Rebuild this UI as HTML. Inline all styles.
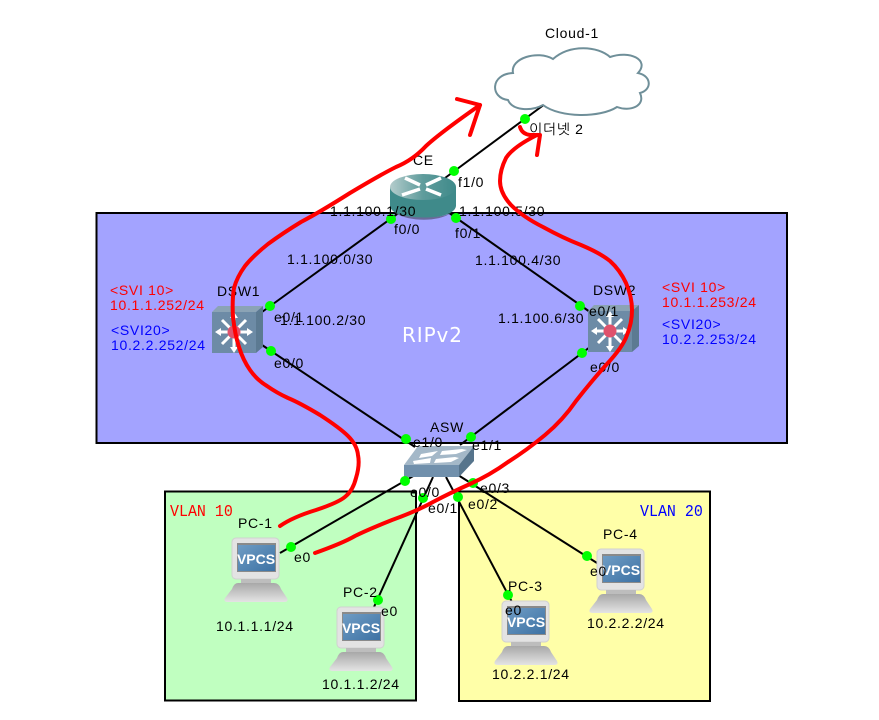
<!DOCTYPE html>
<html><head><meta charset="utf-8">
<style>
html,body{margin:0;padding:0;background:#fff}
svg{display:block}
text{font-family:"Liberation Sans","NanumGothic","Noto Sans CJK KR",sans-serif;font-size:14px;fill:#000;letter-spacing:.7px}
</style></head>
<body>
<svg width="879" height="720" viewBox="0 0 879 720" xmlns="http://www.w3.org/2000/svg">
<defs>
<linearGradient id="rt" x1="0" x2="1" y1="0" y2="0"><stop offset="0" stop-color="#b4cccc"/><stop offset=".5" stop-color="#5f9c9c"/><stop offset="1" stop-color="#3f8a8a"/></linearGradient>
<linearGradient id="scr" x1="0" x2="1" y1="0" y2="1"><stop offset="0" stop-color="#6f9cc4"/><stop offset="1" stop-color="#3d72a4"/></linearGradient>
<linearGradient id="kb" x1="0" x2="0" y1="0" y2="1"><stop offset="0" stop-color="#a8a8a8"/><stop offset="1" stop-color="#e4e4e4"/></linearGradient>
<g id="pc">
<rect x="8" y="0" width="47" height="41" rx="4" fill="#e3e3e3" stroke="#d0d0d0"/>
<rect x="13" y="5" width="39" height="29" fill="#8a8a8a"/>
<rect x="14" y="7" width="37" height="26" fill="url(#scr)"/>
<text x="32" y="26" text-anchor="middle" style="font-size:14px;font-weight:bold;fill:#fff;letter-spacing:0">VPCS</text>
<rect x="17" y="41" width="30" height="4" fill="#bdbdbd"/>
<path d="M14 45 H50 Q55 45 57 51 L63 60 Q65 64 60 64 H4 Q-1 64 1 60 L8 51 Q10 45 14 45Z" fill="url(#kb)"/>
</g>
<g id="dsw">
<path d="M0 6 L6 0 H51 L44 6Z" fill="#8ba3b5"/>
<path d="M44 6 L51 0 V41 L44 47Z" fill="#5c7a92"/>
<rect x="0" y="6" width="44" height="41" fill="#6d8ba6"/>
<g stroke="#fff" stroke-width="3">
<path d="M22 11 V42 M5 26 H39 M10 14 L34 38 M34 14 L10 38"/>
</g>
<path d="M22 6 l-4 6 h8Z M22 47 l-4 -6 h8Z M3 26 l6 -4 v8Z M41 26 l-6 -4 v8Z" fill="#fff"/>
<circle cx="22" cy="26" r="6.5" fill="#e0526c"/>
</g>
</defs>

<rect x="96.5" y="213" width="690.5" height="230" fill="#a3a3ff" stroke="#000" stroke-width="2"/>
<rect x="165" y="491.500" width="251" height="209" fill="#c0ffc0" stroke="#000" stroke-width="2"/>
<rect x="459" y="491.500" width="251" height="209.500" fill="#ffffa8" stroke="#000" stroke-width="2"/>

<!-- links -->
<g stroke="#000" stroke-width="2" fill="none">
<line x1="445" y1="178" x2="545" y2="104"/>
<line x1="400" y1="212" x2="262" y2="312"/>
<line x1="445" y1="210" x2="590" y2="312"/>
<line x1="262" y1="345" x2="415" y2="447"/>
<line x1="460" y1="445" x2="590" y2="347"/>
<line x1="415" y1="475" x2="280" y2="553"/>
<line x1="433" y1="477" x2="374" y2="607"/>
<line x1="446" y1="477" x2="513" y2="604"/>
<line x1="458" y1="475" x2="597" y2="563"/>
</g>

<!-- cloud -->
<path d="M513 73 C510 58 538 50 553 59 C570 44 598 46 610 57 C630 50 650 60 638 73 C652 76 652 90 640 93 C646 106 630 112 617 107 C600 118 560 118 543 105 C530 112 512 110 508 100 C490 98 490 74 513 73Z" fill="#fff" stroke="#6f8f99" stroke-width="2"/>

<!-- router -->
<path d="M390 187 V206 C392 222 454 222 456 206 V187Z" fill="#3f8a8a"/>
<path d="M395 213 C410 222 438 222 451 213 C440 219 410 219 395 213Z" fill="#6a6a9a"/>
<ellipse cx="423" cy="187" rx="33" ry="13" fill="url(#rt)"/>
<g stroke="#fff" stroke-width="3.500" fill="none">
<path d="M405 178 L420 185 M441 195 L426 189 M441 178 L426 185 M402 195 L420 189"/>
</g>

<!-- switches -->
<use href="#dsw" x="212" y="306"/>
<use href="#dsw" x="588" y="305"/>

<!-- ASW -->
<path d="M404 465 L418 446 H474 L459 465Z" fill="#a4b8c8"/>
<path d="M459 465 L474 446 V461 L459 477Z" fill="#56748c"/>
<rect x="404" y="465" width="55" height="12" fill="#7190ac"/>
<g fill="#fff">
<path d="M421 454 L438 451 L432 456 L419 458Z"/>
<path d="M442 451 L462 449 L467 450 L456 454 L440 455Z"/>
<path d="M413 461 L431 458 L430 463 L414 464Z"/>
<path d="M436 459 L455 457 L459 458 L451 462 L434 463Z"/>
</g>

<!-- PCs -->
<use href="#pc" x="224" y="538"/>
<use href="#pc" x="329" y="607"/>
<use href="#pc" x="494" y="601"/>
<use href="#pc" x="589" y="549"/>

<!-- dots -->
<g fill="#0f0">
<circle cx="454" cy="171" r="5"/><circle cx="525" cy="119" r="5"/>
<circle cx="391" cy="219" r="5"/><circle cx="456" cy="218" r="5"/>
<circle cx="270" cy="306" r="5"/><circle cx="271" cy="351" r="5"/>
<circle cx="580" cy="306" r="5"/><circle cx="582" cy="353" r="5"/>
<circle cx="406" cy="439" r="5"/><circle cx="471" cy="437" r="5"/>
<circle cx="405" cy="481" r="5"/><circle cx="423" cy="498" r="5"/>
<circle cx="458" cy="497" r="5"/><circle cx="473" cy="483" r="5"/>
<circle cx="291" cy="547" r="5"/><circle cx="378" cy="600" r="5"/>
<circle cx="508" cy="595" r="5"/><circle cx="587" cy="556" r="5"/>
</g>

<!-- labels -->
<text x="545" y="38">Cloud-1</text>
<text x="529" y="134">이더넷 2</text>
<text x="413" y="165">CE</text>
<text x="458" y="187">f1/0</text>
<text x="330" y="216">1.1.100.1/30</text>
<text x="459" y="216">1.1.100.5/30</text>
<text x="394" y="234">f0/0</text>
<text x="455" y="238">f0/1</text>
<text x="287" y="264">1.1.100.0/30</text>
<text x="475" y="265">1.1.100.4/30</text>
<text x="217" y="296">DSW1</text>
<text x="593" y="295">DSW2</text>
<text x="274" y="322">e0/1</text>
<text x="280" y="325">1.1.100.2/30</text>
<text x="498" y="323">1.1.100.6/30</text>
<text x="589" y="316">e0/1</text>
<text x="274" y="368">e0/0</text>
<text x="590" y="372">e0/0</text>
<text x="430" y="432">ASW</text>
<text x="413" y="447">e1/0</text>
<text x="472" y="450">e1/1</text>
<text x="410" y="497">e0/0</text>
<text x="428" y="513">e0/1</text>
<text x="468" y="509">e0/2</text>
<text x="480" y="493">e0/3</text>
<text x="238" y="528">PC-1</text>
<text x="294" y="562">e0</text>
<text x="343" y="597">PC-2</text>
<text x="381" y="616">e0</text>
<text x="508" y="591">PC-3</text>
<text x="505" y="615">e0</text>
<text x="603" y="539">PC-4</text>
<text x="590" y="576">e0</text>
<text x="216" y="631">10.1.1.1/24</text>
<text x="322" y="689">10.1.1.2/24</text>
<text x="492" y="679">10.2.2.1/24</text>
<text x="587" y="628">10.2.2.2/24</text>

<text x="110" y="295" style="fill:#f00">&lt;SVI 10&gt;</text>
<text x="110" y="310" style="fill:#f00">10.1.1.252/24</text>
<text x="662" y="292" style="fill:#f00">&lt;SVI 10&gt;</text>
<text x="662" y="307" style="fill:#f00">10.1.1.253/24</text>
<text x="111" y="335" style="fill:#00f">&lt;SVI20&gt;</text>
<text x="111" y="350" style="fill:#00f">10.2.2.252/24</text>
<text x="662" y="329" style="fill:#00f">&lt;SVI20&gt;</text>
<text x="662" y="344" style="fill:#00f">10.2.2.253/24</text>

<text x="402" y="342" style="font-size:20px;fill:#fff;letter-spacing:.9px;font-family:'DejaVu Sans',sans-serif">RIPv2</text>
<text transform="translate(170 516) scale(.88 1)" style="font-family:'Liberation Mono',monospace;font-size:17px;fill:#f00;letter-spacing:0">VLAN 10</text>
<text transform="translate(640 516) scale(.88 1)" style="font-family:'Liberation Mono',monospace;font-size:17px;fill:#00f;letter-spacing:0">VLAN 20</text>

<!-- red annotations -->
<g fill="none" stroke="#f00" stroke-width="4" stroke-linecap="round" stroke-linejoin="round">
<path d="M280 526 Q293 517 316 510 Q340 502 346 496 Q353 490 356 478 Q360 465 358 455 Q357 445 348 436 Q340 428 320 415 Q300 403 288 398 Q277 393 267 386 Q257 380 250 370 Q243 360 239 347 Q235 335 233 317 Q232 300 234 288 Q237 277 245 266 Q253 256 268 244 Q283 233 301 222 Q320 212 350 193 Q380 175 396 167 Q413 160 426 146 Q440 133 480 105"/>
<path d="M457 99 L480 105 L470 135"/>
<path d="M315 553 Q343 543 355 536 Q367 530 392 520 Q417 511 433 502 Q450 493 470 484 Q490 475 508 462 Q527 450 545 435 Q563 420 576 401 Q590 383 606 365 Q623 347 627 335 Q632 323 632 310 Q632 297 626 283 Q620 270 610 261 Q600 253 581 245 Q563 238 543 227 Q523 217 511 205 Q500 193 500 181 Q500 170 506 158 Q513 147 537 135"/>
<path d="M520 127 Q522 134 530 135 L540 135 L537 155"/>
</g>
</svg>
</body></html>
